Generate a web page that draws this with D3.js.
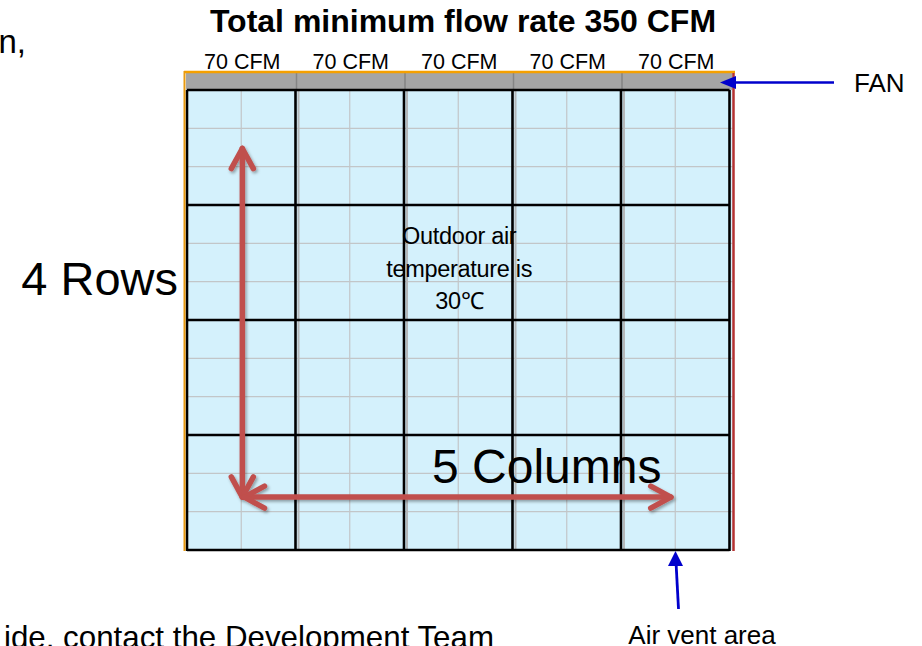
<!DOCTYPE html>
<html>
<head>
<meta charset="utf-8">
<script src="https://cdn.jsdelivr.net/npm/d3@7"></script>
<style>
  body { margin: 0; background: #fff; }
  text { font-family: Arial, "Liberation Sans", sans-serif; fill: #000; }
</style>
</head>
<body>
<div id="chart"></div>
<script>
// Layout data
const columns = ["C1", "C2", "C3", "C4", "C5"];
const columnFlow = [70, 70, 70, 70, 70];
const rows = ["R1", "R2", "R3", "R4"];
const subCols = [0.5];          // fine grid inside each column
const subRows = [1 / 3, 2 / 3];  // fine grid inside each row
const title = "Total minimum flow rate 350 CFM";
const centerNote = ["Outdoor air", "temperature is", "30\u2103"];

const W = 922, H = 646;

const svg = d3.select("#chart")
    .append("svg")
    .attr("width", W)
    .attr("height", H);

// scales for the panel grid
const x = d3.scaleLinear().domain([0, columns.length]).range([187, 729.5]);
const y = d3.scaleLinear().domain([0, rows.length]).range([90, 550]);

const defs = svg.append("defs");
const shadow = defs.append("filter").attr("id", "shadow")
    .attr("x", "-20%").attr("y", "-20%").attr("width", "140%").attr("height", "140%");
shadow.append("feDropShadow")
    .attr("dx", 1.5).attr("dy", 2).attr("stdDeviation", 1.8)
    .attr("flood-color", "#000").attr("flood-opacity", 0.35);

// background of the vent area
svg.append("rect")
    .attr("x", x(0)).attr("y", y(0))
    .attr("width", x(columns.length) - x(0) + 3)
    .attr("height", y(rows.length) - y(0))
    .attr("fill", "#d4f1fc");

// fine grid lines
const fine = svg.append("g").attr("stroke", "#c2c6c8").attr("stroke-width", 1.2);
columns.forEach((c, i) => {
    subCols.forEach(s => {
        fine.append("line")
            .attr("x1", x(i + s)).attr("x2", x(i + s))
            .attr("y1", y(0)).attr("y2", y(rows.length));
    });
});
rows.forEach((r, j) => {
    subRows.forEach(s => {
        fine.append("line")
            .attr("x1", x(0)).attr("x2", x(columns.length) + 3)
            .attr("y1", y(j + s)).attr("y2", y(j + s));
    });
});
// soft gray edge next to each column line
columns.slice(1).forEach((c, i) => {
    fine.append("line")
        .attr("x1", x(i + 1) + 3).attr("x2", x(i + 1) + 3)
        .attr("y1", y(0)).attr("y2", y(rows.length))
        .attr("stroke", "#b4b8ba").attr("stroke-width", 2);
});

// fan strip
svg.append("rect")
    .attr("x", x(0) - 1).attr("y", 73)
    .attr("width", x(columns.length) - x(0) + 4).attr("height", 17)
    .attr("fill", "#a5a5a5");
columns.slice(1).forEach((c, i) => {
    svg.append("line")
        .attr("x1", x(i + 1) + 1).attr("x2", x(i + 1) + 1)
        .attr("y1", 73).attr("y2", 90)
        .attr("stroke", "#858585").attr("stroke-width", 1.5);
});

// heavy panel lines
const heavy = svg.append("g").attr("stroke", "#000").attr("stroke-width", 2.6);
d3.range(columns.length + 1).forEach(i => {
    heavy.append("line")
        .attr("x1", x(i)).attr("x2", x(i))
        .attr("y1", y(0)).attr("y2", y(rows.length) + 1);
});
d3.range(rows.length + 1).forEach(j => {
    heavy.append("line")
        .attr("x1", x(0)).attr("x2", x(columns.length))
        .attr("y1", y(j)).attr("y2", y(j));
});

// outer frame: orange top/left, red right
svg.append("line").attr("x1", 184).attr("x2", 735).attr("y1", 72).attr("y2", 72)
    .attr("stroke", "#f5a000").attr("stroke-width", 2.5);
svg.append("line").attr("x1", 184.5).attr("x2", 184.5).attr("y1", 71).attr("y2", 551)
    .attr("stroke", "#e89a10").attr("stroke-width", 2);
svg.append("line").attr("x1", 733.5).attr("x2", 733.5).attr("y1", 73).attr("y2", 551)
    .attr("stroke", "#b43232").attr("stroke-width", 2.5);

// title and per-column flow
svg.append("text")
    .attr("x", 463).attr("y", 32)
    .attr("text-anchor", "middle")
    .attr("font-size", 32).attr("font-weight", "bold")
    .text(title);

svg.selectAll(".flow")
    .data(columnFlow)
    .join("text")
    .attr("class", "flow")
    .attr("x", (d, i) => x(i + 0.5) + 1)
    .attr("y", 69)
    .attr("text-anchor", "middle")
    .attr("font-size", 21.5)
    .text(d => `${d} CFM`);

// centre note
svg.append("text")
    .attr("text-anchor", "middle")
    .attr("font-size", 23.5)
    .attr("letter-spacing", -0.3)
    .selectAll("tspan")
    .data(centerNote)
    .join("tspan")
    .attr("x", x(2.5) + 1)
    .attr("y", (d, i) => 244 + i * 32.5)
    .text(d => d);

// red double arrows for rows / columns
function chevron(g, px, py, angle) {
    const len = 23, spread = 0.5;
    [angle - spread, angle + spread].forEach(a => {
        g.append("line")
            .attr("x1", px).attr("y1", py)
            .attr("x2", px + len * Math.cos(a)).attr("y2", py + len * Math.sin(a));
    });
}
const red = svg.append("g")
    .attr("stroke", "#c0504d").attr("stroke-width", 5.5)
    .attr("stroke-linecap", "round").attr("fill", "none")
    .attr("filter", "url(#shadow)");
const ax = x(0.51), ayTop = y(0.5) + 1, ayBot = y(3.54);
const axRight = x(4.46);
red.append("line").attr("x1", ax).attr("x2", ax).attr("y1", ayTop + 2).attr("y2", ayBot - 2);
chevron(red, ax, ayTop, Math.PI / 2);
chevron(red, ax, ayBot, -Math.PI / 2);
red.append("line").attr("x1", ax + 2).attr("x2", axRight - 2).attr("y1", ayBot).attr("y2", ayBot);
chevron(red, ax + 2, ayBot, 0);
chevron(red, axRight, ayBot, Math.PI);

svg.append("text")
    .attr("x", 178).attr("y", 295)
    .attr("text-anchor", "end")
    .attr("font-size", 47)
    .text("4 Rows");
svg.append("text")
    .attr("x", 432).attr("y", 483)
    .attr("font-size", 48)
    .text("5 Columns");

// blue pointer arrows
const blue = "#0000cc";
svg.append("line").attr("x1", 834).attr("x2", 730).attr("y1", 82.5).attr("y2", 82.5)
    .attr("stroke", blue).attr("stroke-width", 2.5);
svg.append("path")
    .attr("d", d3.line()([[720, 82.5], [736, 76], [736, 89]]))
    .attr("fill", blue);
svg.append("text")
    .attr("x", 854).attr("y", 92)
    .attr("font-size", 26)
    .text("FAN");

svg.append("line").attr("x1", 678.5).attr("x2", 676).attr("y1", 609).attr("y2", 562)
    .attr("stroke", blue).attr("stroke-width", 2.8);
svg.append("path")
    .attr("d", d3.line()([[675.5, 551], [668, 566], [683, 566]]))
    .attr("fill", blue);
svg.append("text")
    .attr("x", 702).attr("y", 644)
    .attr("text-anchor", "middle")
    .attr("font-size", 26)
    .text("Air vent area");

// cut-off slide text around the figure
svg.append("text")
    .attr("x", 26).attr("y", 53)
    .attr("text-anchor", "end")
    .attr("font-family", "'Open Sans', sans-serif")
    .attr("font-size", 33)
    .text("n,");
svg.append("text")
    .attr("x", 494).attr("y", 648)
    .attr("text-anchor", "end")
    .attr("font-size", 31.3)
    .text("ide, contact the Development Team");
</script>
</body>
</html>
